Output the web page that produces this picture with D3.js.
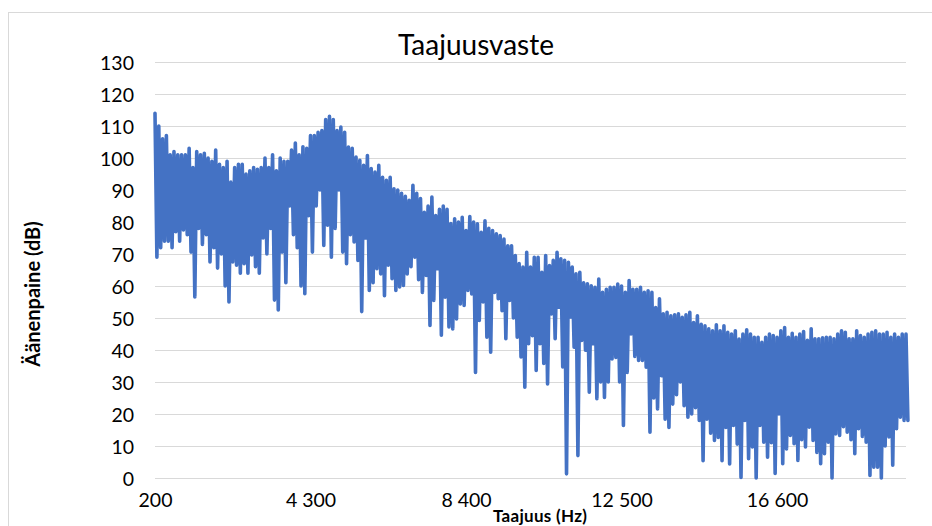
<!DOCTYPE html>
<html>
<head>
<meta charset="utf-8">
<script src="https://cdn.jsdelivr.net/npm/d3@7"></script>
<style>
  html, body { margin: 0; padding: 0; background: #fff; }
  svg { display: block; }
  text { font-family: Lato, "Open Sans", "Liberation Sans", sans-serif; fill: #000; }
</style>
</head>
<body>
<svg id="chart" width="932" height="526"></svg>
<script>
// ---- data ----
const title = "Taajuusvaste";
const xTitle = "Taajuus (Hz)";
const yTitle = "Äänenpaine (dB)";
const startHz = 200;
const stepHz = 100;
// local maxima per 100 Hz step (dB)
const peaks = [
  114,110,106,107,101,102,101,101,101,103,
  97,102,101,101.5,100,99,102.5,98,97,99,
  92.5,97,98,98,95,96,97,96.5,97,100,
  97,101,96,100,99,99,102.5,104.7,101,103.5,
  103,107,107,108,108.6,112,113,112,108.6,109.7,
  108,103.4,103,100.3,99.3,97.7,100.8,96.7,95.6,97.7,
  94,93,94,90.4,90,89,88,86.8,91.5,89,
  87.3,83,85,87.8,82,84,85,84,79.5,81,
  80,81.5,77.3,81.7,80,79.4,76.8,80.4,78,77.3,
  76.3,75.8,74.7,72.6,72.6,69.5,67,65.9,70.5,65.9,
  69,69,64.3,69.5,66.4,68,70.5,68.5,68,67.4,
  65.9,63.8,64.3,61,60.7,60.1,59.6,62.2,58,59,
  59.6,59.6,60.6,60,58,61.7,59,59,59.6,58,
  58.5,58,53.3,56,51.3,51.8,50.7,51,51.3,50.2,
  51,51.8,48.6,50.7,48,47.6,46.6,46,47.9,46,
  47.6,45.5,45,46,43.4,45,46.3,45,44,44,
  42.4,44,45,44.5,44,46,47,44,45.2,44,
  45,45.8,43,46.6,43.5,43.5,43.8,44,44,43.5,
  45,46,45.5,43.5,43.5,46,44.5,44,45,45.5,
  46,45,45,45.5,44,45,44,45,45
];
// local minima between consecutive maxima (dB)
const dips = [
  69,72,74,74,72,77,74,77.5,76,70.6,
  56.6,78,73,76,67.5,72,65.6,70,60,55,
  67.5,66.5,64,67,64,69.7,66,64,75,70,
  78,55.6,52.5,70.6,61,85,76,72,60,57.6,
  82,70.6,85,90,72.7,79,69,78,90,70.6,
  67,76,73.8,68,52,75,58.6,61,65.4,63.8,
  57,66.5,62.3,58.6,59.7,60.2,63.8,66,69,62,
  58,63.3,47.7,55.5,65.4,44.6,56.5,47.2,46.6,49.7,
  54.4,53.9,58.6,57.5,33,49.2,55,44,39.3,58,
  56,52.3,43.5,55.5,50,44,37.8,28.4,42,44.5,
  33.6,42,35.8,29.4,51.3,43.5,53.4,34.7,1.3,50.3,
  40.9,7,43,39.9,26.8,42,24.8,30,25.2,30,
  37.2,37.7,30,16.4,33,45,38,36.7,36.7,34.6,
  14.3,25,21.6,32,18.4,15.8,23.1,26,30,22.6,
  19,20,22,18,5.4,18.4,14,11.7,12.7,5.4,
  15.8,4.4,16.4,10.6,0.2,18,6,9.7,0,16.4,
  11.2,6.5,11,1.4,20,4.5,9.1,13.3,10.7,5.5,
  12,9.7,15.9,11.7,8,4.5,7.6,11.2,0,13.8,
  13.3,16,14.3,12,7.6,15.4,13,11.2,0.8,3.4,
  3.4,0,10,12.8,4,15.4,19,18,18
];
const yTickValues = [0,10,20,30,40,50,60,70,80,90,100,110,120,130];
const xTickValues = [200, 4300, 8400, 12500, 16600];
const xTickLabels = ["200", "4 300", "8 400", "12 500", "16 600"];

// ---- build series ----
const series = [];
peaks.forEach((p, i) => {
  series.push({ f: startHz + stepHz * i, v: p });
  if (i < dips.length) series.push({ f: startHz + stepHz * i + stepHz / 2, v: dips[i] });
});

// ---- layout ----
const svg = d3.select("#chart");
const plot = { left: 155, right: 906, top: 62, bottom: 478 };

const x = d3.scaleLinear()
  .domain([startHz, startHz + stepHz * (peaks.length - 1)])
  .range([plot.left, plot.right]);
const y = d3.scaleLinear().domain([0, 130]).range([plot.bottom, plot.top]);

// outer chart border
svg.append("rect")
  .attr("x", 8.5).attr("y", 12.5)
  .attr("width", 960).attr("height", 560)
  .attr("fill", "#fff").attr("stroke", "#d9d9d9").attr("stroke-width", 1);

// gridlines + y labels
const yAxis = d3.axisLeft(y).tickValues(yTickValues)
  .tickSize(-(plot.right - plot.left)).tickPadding(20).tickFormat(d3.format("d"));
const gy = svg.append("g").attr("transform", `translate(${plot.left},0)`).call(yAxis);
gy.select(".domain").remove();
gy.selectAll(".tick line").attr("stroke", "#d9d9d9").attr("stroke-width", 1);
gy.selectAll(".tick text").style("font-size", "19.5px").attr("x", -21).attr("dy", "0.36em");

// x axis labels
const xAxis = d3.axisBottom(x).tickValues(xTickValues)
  .tickSize(0).tickPadding(0)
  .tickFormat((d, i) => xTickLabels[i]);
const gx = svg.append("g").attr("transform", `translate(0,${plot.bottom})`).call(xAxis);
gx.select(".domain").remove();
gx.selectAll(".tick text").style("font-size", "19.5px").attr("y", 29).attr("dy", 0);

// data line
const line = d3.line().x(d => x(d.f)).y(d => y(d.v));
svg.append("path")
  .datum(series)
  .attr("d", line)
  .attr("fill", "none")
  .attr("stroke", "#4472C4")
  .attr("stroke-width", 3.6)
  .attr("stroke-linejoin", "round")
  .attr("stroke-linecap", "round");

// titles
svg.append("text")
  .attr("x", 476).attr("y", 55)
  .attr("text-anchor", "middle")
  .style("font-size", "28px")
  .text(title);

svg.append("text")
  .attr("transform", "translate(40,294) rotate(-90)")
  .attr("text-anchor", "middle")
  .style("font-size", "20px").style("font-weight", "bold")
  .text(yTitle);

svg.append("text")
  .attr("x", 540).attr("y", 522)
  .attr("text-anchor", "middle")
  .attr("textLength", 94)
  .attr("lengthAdjust", "spacing")
  .style("font-size", "17px").style("font-weight", "bold")
  .text(xTitle);
</script>
</body>
</html>
